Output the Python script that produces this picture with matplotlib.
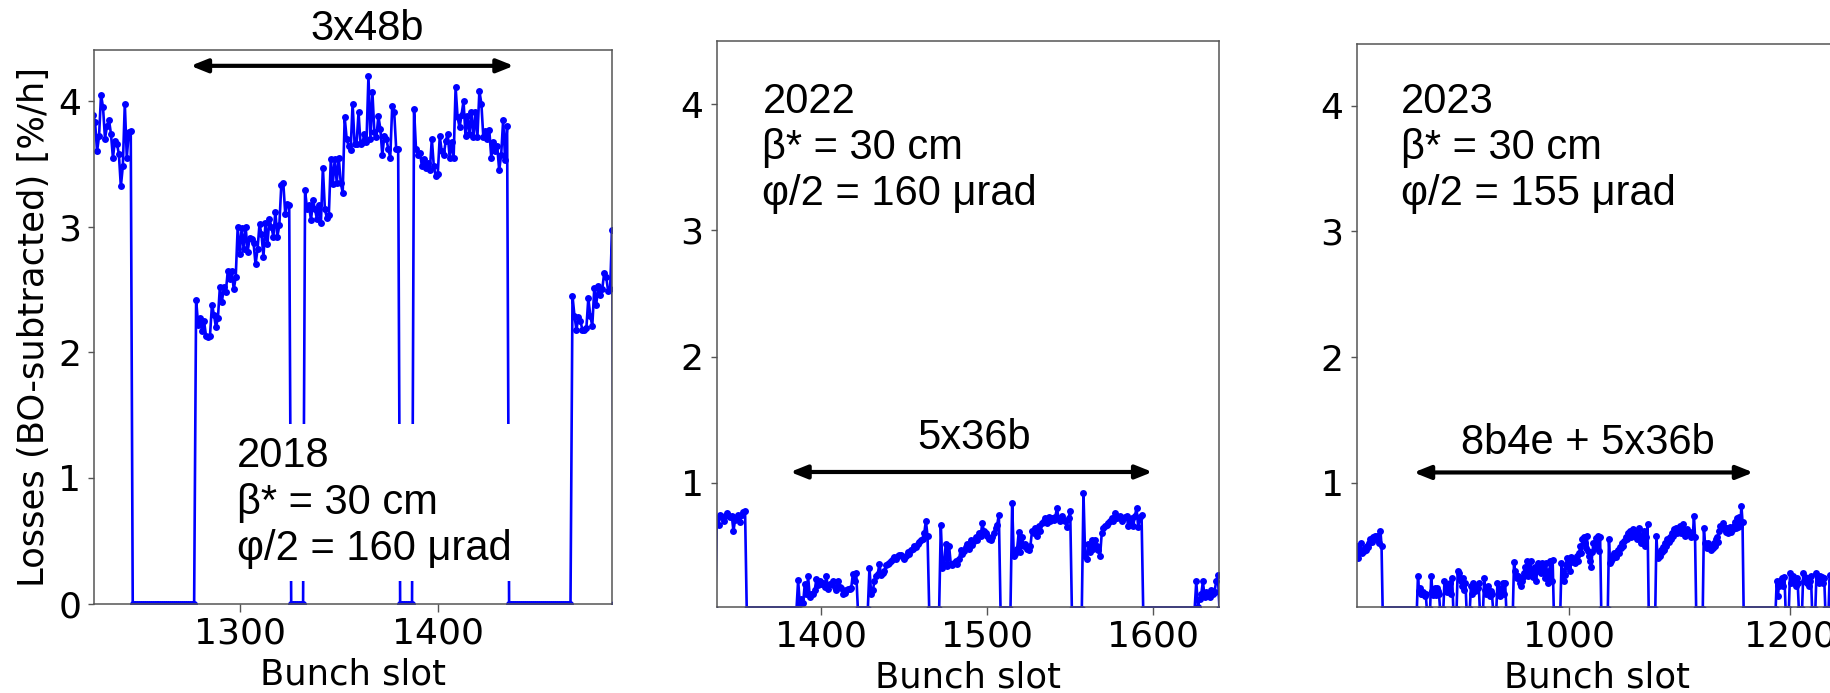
import numpy as np
import matplotlib
matplotlib.use("Agg")
import matplotlib.pyplot as plt

plt.rcParams['font.family'] = ['DejaVu Sans']

# ---------------- Panel 1 : 2018 ----------------
p1_xlim = (1226.7, 1487.8)
p1_ylim = (0.0, 4.41)
p1_xticks = [1300, 1400]
p1_yticks = [0, 1, 2, 3, 4]
p1_starts = [1226, 1278, 1333, 1388, 1468]
p1_trainA = [3.89, 3.83, 3.60, 3.72, 4.05, 3.95, 3.70, 3.80, 3.85, 3.74,
             3.55, 3.68, 3.66, 3.58, 3.32, 3.48, 3.98, 3.55, 3.75, 3.76]
p1_train1 = [2.42, 2.22, 2.27, 2.17, 2.25, 2.13, 2.12, 2.13, 2.38, 2.30,
             2.20, 2.27, 2.52, 2.40, 2.52, 2.48, 2.65, 2.58, 2.65, 2.50,
             2.60, 3.00, 2.78, 2.99, 2.82, 3.00, 2.80, 2.91, 2.90, 2.87,
             2.70, 2.82, 3.02, 2.94, 2.76, 3.03, 2.86, 3.06, 3.00, 2.92,
             3.12, 2.92, 3.01, 3.33, 3.35, 3.10, 3.18, 3.17]
p1_train2 = [3.29, 3.14, 3.17, 3.05, 3.21, 3.14, 3.06, 3.17, 3.03, 3.47,
             3.14, 3.07, 3.09, 3.54, 3.34, 3.54, 3.35, 3.55, 3.35, 3.27,
             3.87, 3.70, 3.64, 3.61, 3.98, 3.66, 3.66, 3.91, 3.66, 3.67,
             3.74, 3.67, 4.20, 3.70, 4.07, 3.75, 3.71, 3.88, 3.78, 3.57,
             3.72, 3.70, 3.62, 3.55, 3.96, 3.91, 3.62, 3.62]
p1_train3 = [3.94, 3.62, 3.57, 3.59, 3.48, 3.54, 3.47, 3.51, 3.45, 3.70,
             3.48, 3.40, 3.42, 3.72, 3.60, 3.57, 3.68, 3.74, 3.55, 3.67,
             3.55, 4.11, 3.87, 3.79, 3.89, 4.00, 3.72, 3.88, 3.74, 3.91,
             3.71, 3.91, 3.71, 4.08, 3.98, 3.71, 3.76, 3.70, 3.77, 3.55,
             3.67, 3.60, 3.64, 3.45, 3.57, 3.85, 3.53, 3.80]
p1_trainB = [2.45, 2.29, 2.18, 2.28, 2.25, 2.18, 2.18, 2.19, 2.43, 2.29,
             2.21, 2.51, 2.38, 2.53, 2.46, 2.50, 2.63, 2.60, 2.49, 2.50, 2.97]
p1_trains = [p1_trainA, p1_train1, p1_train2, p1_train3, p1_trainB]
p1_text = "2018\nβ* = 30 cm\nφ/2 = 160 μrad"
p1_text_pos = (1298.7, 1.33)
p1_label = "3x48b"
p1_label_pos = (1364.5, 4.485)
p1_arrow = (1275.2, 1438.4, 4.28)

# ---------------- Panel 2 : 2022 ----------------
p2_xlim = (1336.9, 1639.7)
p2_ylim = (0.02, 4.5)
p2_xticks = [1400, 1500, 1600]
p2_yticks = [1, 2, 3, 4]
p2_starts = [1337, 1386, 1429, 1472, 1515, 1558, 1626]
p2_trainA = [0.72, 0.67, 0.75, 0.73, 0.70, 0.74, 0.76, 0.75, 0.73, 0.74,
             0.62, 0.71, 0.73, 0.75, 0.69, 0.75, 0.77, 0.78]
p2_train1 = [0.23, 0.04, 0.08, 0.05, 0.20, 0.12, 0.26, 0.10, 0.12, 0.12,
             0.15, 0.24, 0.19, 0.22, 0.20, 0.21, 0.18, 0.26, 0.16, 0.20,
             0.20, 0.22, 0.18, 0.15, 0.22, 0.18, 0.17, 0.12, 0.13, 0.15,
             0.16, 0.16, 0.17, 0.28, 0.22, 0.29]
p2_train2 = [0.33, 0.12, 0.15, 0.22, 0.26, 0.28, 0.36, 0.27, 0.29, 0.30,
             0.35, 0.36, 0.37, 0.38, 0.40, 0.41, 0.40, 0.42, 0.43, 0.43,
             0.41, 0.40, 0.42, 0.45, 0.44, 0.47, 0.48, 0.50, 0.49, 0.52,
             0.53, 0.55, 0.56, 0.60, 0.70, 0.58]
p2_train3 = [0.67, 0.33, 0.36, 0.52, 0.34, 0.50, 0.36, 0.35, 0.37, 0.38,
             0.36, 0.40, 0.47, 0.44, 0.46, 0.49, 0.52, 0.48, 0.55, 0.51,
             0.54, 0.57, 0.55, 0.60, 0.58, 0.68, 0.62, 0.60, 0.58, 0.56,
             0.55, 0.57, 0.60, 0.64, 0.67, 0.75]
p2_train4 = [0.84, 0.42, 0.44, 0.48, 0.61, 0.45, 0.57, 0.50, 0.52, 0.48,
             0.47, 0.50, 0.62, 0.60, 0.64, 0.58, 0.66, 0.62, 0.68, 0.70,
             0.72, 0.68, 0.73, 0.70, 0.72, 0.71, 0.73, 0.80, 0.72, 0.70,
             0.74, 0.71, 0.70, 0.65, 0.72, 0.78]
p2_train5 = [0.92, 0.42, 0.40, 0.52, 0.45, 0.55, 0.48, 0.55, 0.50, 0.47,
             0.42, 0.60, 0.64, 0.66, 0.67, 0.68, 0.70, 0.72, 0.70, 0.76,
             0.72, 0.73, 0.74, 0.70, 0.72, 0.73, 0.74, 0.66, 0.70, 0.72,
             0.66, 0.74, 0.80, 0.65, 0.73, 0.75]
p2_trainB = [0.22, 0.02, 0.08, 0.12, 0.22, 0.10, 0.14, 0.12, 0.10, 0.15,
             0.12, 0.14, 0.22, 0.27]
p2_trains = [p2_trainA, p2_train1, p2_train2, p2_train3, p2_train4,
             p2_train5, p2_trainB]
p2_text = "2022\nβ* = 30 cm\nφ/2 = 160 μrad"
p2_text_pos = (1364.5, 4.18)
p2_label = "5x36b"
p2_label_pos = (1492.2, 1.27)
p2_arrow = (1381.2, 1599.6, 1.087)

# ---------------- Panel 3 : 2023 ----------------
p3_xlim = (807.5, 1242.5)
p3_ylim = (0.015, 4.49)
p3_xticks = [1000, 1200]
p3_yticks = [1, 2, 3, 4]
p3_starts = [807, 863, 875, 887, 899, 911, 923, 935,
             950, 993, 1036, 1079, 1122,
             1188, 1200, 1212, 1224, 1236]
p3_trainA = [0.42, 0.50, 0.40, 0.45, 0.52, 0.44, 0.47, 0.46, 0.48, 0.47,
             0.50, 0.49, 0.52, 0.55, 0.53, 0.57, 0.56, 0.58, 0.55, 0.58,
             0.57, 0.52, 0.62, 0.50]
p3_g1 = [0.26, 0.14, 0.16, 0.12, 0.12, 0.13, 0.10, 0.12]
p3_g2 = [0.26, 0.14, 0.11, 0.16, 0.11, 0.16, 0.14, 0.12]
p3_g3 = [0.22, 0.14, 0.13, 0.19, 0.16, 0.20, 0.12, 0.24]
p3_g4 = [0.30, 0.28, 0.24, 0.22, 0.18, 0.24, 0.15, 0.20]
p3_g5 = [0.18, 0.12, 0.20, 0.17, 0.14, 0.18, 0.16, 0.20]
p3_g6 = [0.24, 0.15, 0.12, 0.18, 0.13, 0.10, 0.14, 0.12]
p3_g7 = [0.20, 0.12, 0.10, 0.16, 0.13, 0.20, 0.12, 0.20]
p3_train1 = [0.37, 0.30, 0.27, 0.24, 0.26, 0.20, 0.18, 0.22, 0.25, 0.28,
             0.33, 0.30, 0.38, 0.26, 0.33, 0.38, 0.28, 0.25, 0.31, 0.33,
             0.22, 0.30, 0.36, 0.32, 0.28, 0.36, 0.35, 0.30, 0.24, 0.36,
             0.28, 0.20, 0.30, 0.38, 0.22, 0.39]
p3_train2 = [0.36, 0.30, 0.22, 0.27, 0.35, 0.40, 0.33, 0.38, 0.30, 0.41,
             0.37, 0.38, 0.36, 0.40, 0.42, 0.38, 0.44, 0.50, 0.44, 0.55,
             0.57, 0.52, 0.48, 0.58, 0.46, 0.42, 0.38, 0.33, 0.45, 0.52,
             0.48, 0.56, 0.50, 0.58, 0.46, 0.57]
p3_train3 = [0.55, 0.36, 0.38, 0.42, 0.40, 0.44, 0.41, 0.45, 0.47, 0.44,
             0.49, 0.48, 0.52, 0.50, 0.54, 0.57, 0.55, 0.60, 0.58, 0.62,
             0.57, 0.60, 0.63, 0.58, 0.62, 0.55, 0.60, 0.64, 0.56, 0.52,
             0.58, 0.54, 0.62, 0.50, 0.57, 0.67]
p3_train4 = [0.58, 0.40, 0.44, 0.42, 0.47, 0.45, 0.49, 0.47, 0.52, 0.50,
             0.55, 0.53, 0.57, 0.55, 0.60, 0.58, 0.63, 0.61, 0.64, 0.60,
             0.62, 0.66, 0.60, 0.63, 0.67, 0.62, 0.58, 0.60, 0.63, 0.59,
             0.61, 0.57, 0.60, 0.58, 0.74, 0.57]
p3_train5 = [0.64, 0.52, 0.50, 0.48, 0.52, 0.49, 0.47, 0.50, 0.48, 0.52,
             0.50, 0.55, 0.57, 0.53, 0.62, 0.66, 0.64, 0.68, 0.65, 0.63,
             0.61, 0.64, 0.60, 0.62, 0.65, 0.61, 0.63, 0.66, 0.69, 0.64,
             0.72, 0.65, 0.73, 0.66, 0.82, 0.69]
p3_r1 = [0.22, 0.10, 0.18, 0.22, 0.20, 0.24, 0.18, 0.25]
p3_r2 = [0.28, 0.20, 0.24, 0.26, 0.22, 0.18, 0.24, 0.20]
p3_r3 = [0.28, 0.22, 0.25, 0.20, 0.24, 0.18, 0.22, 0.26]
p3_r4 = [0.28, 0.24, 0.20, 0.26, 0.22, 0.25, 0.20, 0.24]
p3_r5 = [0.27, 0.22, 0.25, 0.20, 0.24, 0.22, 0.26, 0.24]
p3_trains = [p3_trainA, p3_g1, p3_g2, p3_g3, p3_g4, p3_g5, p3_g6, p3_g7,
             p3_train1, p3_train2, p3_train3, p3_train4, p3_train5,
             p3_r1, p3_r2, p3_r3, p3_r4, p3_r5]
p3_text = "2023\nβ* = 30 cm\nφ/2 = 155 μrad"
p3_text_pos = (847.8, 4.19)
p3_label = "8b4e + 5x36b"
p3_label_pos = (1017.0, 1.23)
p3_arrow = (859.1, 1166.8, 1.083)

xlabel = "Bunch slot"
ylabel = "Losses (BO-subtracted) [%/h]"


def build_series(xlim, starts, trains):
    first = int(np.floor(xlim[0]))
    last = int(np.ceil(xlim[1])) + 1
    slots = np.arange(first, last + 1)
    vals = np.zeros(len(slots))
    for s0, tr in zip(starts, trains):
        for k, v in enumerate(tr):
            idx = s0 + k - first
            if 0 <= idx < len(vals):
                vals[idx] = v
    return slots, vals


W, H = 1831, 693
fig = plt.figure(figsize=(W / 100, H / 100), dpi=100)

positions = [
    (94.5, 611.7, 49.5, 603.6),
    (716.7, 1219.0, 41.1, 606.7),
    (1356.7, 1836.9, 44.2, 606.7),
]

panels = [
    (p1_xlim, p1_ylim, p1_xticks, p1_yticks, p1_starts, p1_trains,
     p1_text, p1_text_pos, p1_label, p1_label_pos, p1_arrow, True),
    (p2_xlim, p2_ylim, p2_xticks, p2_yticks, p2_starts, p2_trains,
     p2_text, p2_text_pos, p2_label, p2_label_pos, p2_arrow, False),
    (p3_xlim, p3_ylim, p3_xticks, p3_yticks, p3_starts, p3_trains,
     p3_text, p3_text_pos, p3_label, p3_label_pos, p3_arrow, False),
]

spine_color = '#555555'
for (l, r, t, b), pan in zip(positions, panels):
    (xlim, ylim, xt, yt, starts, trains, txt, txt_pos, lab, lab_pos,
     arr, boxed) = pan
    ax = fig.add_axes([l / W, 1 - b / H, (r - l) / W, (b - t) / H])
    slots, vals = build_series(xlim, starts, trains)
    ax.plot(slots, vals, '-o', color='blue', lw=1.9, ms=5.0,
            markeredgewidth=0)
    ax.set_xlim(*xlim)
    ax.set_ylim(*ylim)
    ax.set_xticks(xt)
    ax.set_yticks(yt)
    ax.tick_params(axis='x', labelsize=26, length=5.5, width=1.0,
                   color=spine_color, pad=3.5)
    ax.tick_params(axis='y', labelsize=26, length=4.5, width=1.0,
                   color=spine_color, pad=5.0)
    for sp in ax.spines.values():
        sp.set_color(spine_color)
        sp.set_linewidth(1.1)
    ax.set_xlabel(xlabel, fontsize=25.5, labelpad=5)
    if boxed:
        ax.set_ylabel(ylabel, fontsize=25.5)
        ax.yaxis.set_label_coords(-0.0837, 0.5)
    bbox = dict(boxstyle='square,pad=0.3', facecolor='white',
                edgecolor='none') if boxed else None
    ax.text(txt_pos[0], txt_pos[1], txt, family='Liberation Sans',
            fontsize=30, ha='left', va='top', linespacing=1.2, bbox=bbox,
            zorder=5)
    ax.text(lab_pos[0], lab_pos[1], lab, family='Liberation Sans',
            fontsize=30, ha='center', va='baseline', zorder=5)
    ax.annotate('', xy=(arr[1], arr[2]), xytext=(arr[0], arr[2]),
                arrowprops=dict(arrowstyle='<|-|>,head_length=0.5,head_width=0.2',
                                mutation_scale=20, lw=3.0, color='black',
                                shrinkA=0, shrinkB=0),
                annotation_clip=False, zorder=6)

fig.savefig('out.png', dpi=100, facecolor='white')
